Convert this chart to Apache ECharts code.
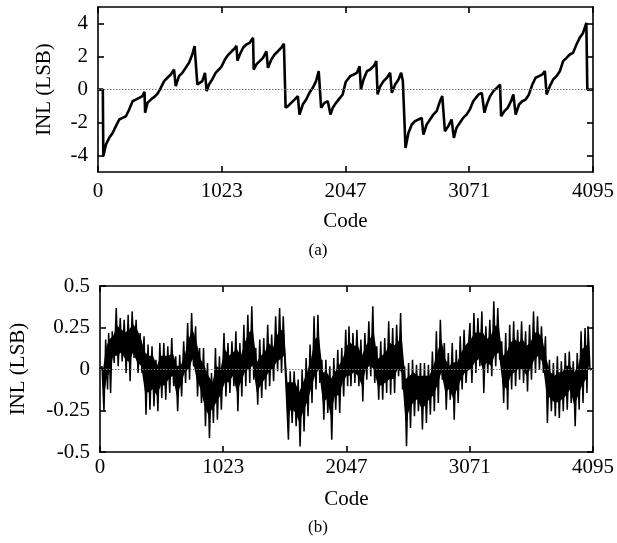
<!DOCTYPE html>
<html><head><meta charset="utf-8">
<script src="https://cdn.jsdelivr.net/npm/echarts@6/dist/echarts.min.js"></script>
<style>html,body{margin:0;padding:0;background:#fff}#c{width:617px;height:543px}</style>
</head><body><div id="c"></div>
<script>
// Tick labels
const xTicks = [0, 1023, 2047, 3071, 4095];
const topYTicks = [-4, -2, 0, 2, 4];

// (a) INL before calibration: code / value pairs
const topCodes = [0,40,44,66,93,121,148,176,203,231,258,286,313,341,368,385,390,409,437,464,492,519,547,574,602,629,643,670,698,725,753,780,799,822,841,863,885,899,918,945,973,1000,1022,1049,1077,1104,1132,1145,1154,1173,1200,1228,1255,1283,1288,1310,1338,1365,1393,1406,1434,1461,1489,1516,1538,1544,1552,1571,1598,1626,1653,1667,1694,1722,1749,1777,1804,1826,1846,1873,1901,1923,1942,1969,1997,2024,2049,2087,2115,2142,2164,2175,2197,2225,2252,2280,2302,2313,2335,2362,2390,2417,2431,2458,2486,2508,2522,2533,2544,2568,2596,2623,2651,2678,2692,2719,2747,2774,2802,2829,2848,2870,2898,2925,2944,2966,2994,3021,3049,3076,3104,3126,3148,3175,3189,3197,3216,3244,3271,3299,3326,3335,3362,3389,3417,3436,3455,3483,3510,3538,3565,3593,3620,3648,3675,3697,3711,3738,3766,3793,3821,3848,3876,3903,3930,3958,3985,4013,4040,4048,4095];
const topINL = [0,0,-4.05,-3.33,-2.93,-2.63,-2.22,-1.82,-1.72,-1.62,-1.21,-0.71,-0.61,-0.51,-0.40,-0.14,-1.41,-0.81,-0.61,-0.46,-0.26,0.10,0.51,0.71,0.91,1.21,0.20,0.81,1.01,1.31,1.62,2.12,2.63,0.30,0.40,0.51,1.01,-0.10,0.30,0.61,1.01,1.21,1.40,1.80,2.10,2.30,2.50,2.65,1.75,2.12,2.53,2.73,2.83,3.13,1.21,1.52,1.72,1.92,2.32,1.31,1.82,2.12,2.32,2.53,2.77,2.73,-1.11,-1.01,-0.81,-0.61,-0.40,-1.52,-0.91,-0.61,-0.20,0.10,0.51,1.11,-1.11,-0.81,-0.71,-1.52,-1.11,-0.81,-0.55,-0.30,0.45,0.81,0.91,1.01,1.41,0.0,0.61,1.11,1.21,1.41,1.72,-0.30,0.20,0.51,0.71,1.01,-0.20,0.30,0.61,1.01,0.51,-1.52,-3.54,-2.63,-2.12,-1.92,-1.82,-1.72,-2.73,-2.12,-1.82,-1.52,-1.31,-0.71,-0.40,-2.53,-2.22,-1.82,-2.93,-2.32,-2.02,-1.72,-1.52,-1.21,-0.71,-0.51,-0.30,-0.20,-0.10,-1.41,-0.91,-0.40,-0.10,0.10,0.30,-1.62,-1.31,-1.11,-0.71,-0.30,-1.52,-0.91,-0.71,-0.61,-0.30,0.30,0.71,0.81,0.91,1.11,-0.30,0.20,0.61,0.81,1.11,1.72,1.92,2.12,2.22,2.73,3.13,3.43,4.04,0,0];

// (b) INL after calibration, per bin of codes:
// botHi/botLo = tips of the spikes, coreHi/coreLo = edges of the dense black band
const botCodes = [25,55,80,110,143,176,209,242,275,308,341,374,407,440,473,505,538,571,604,637,670,703,736,769,802,835,868,901,934,967,1000,
 1038,1071,1104,1137,1170,1203,1236,1269,1302,1335,1368,1401,1434,1467,1500,1530,1557,1588,1621,1654,1687,1720,1753,1786,1818,1851,1884,1917,1950,1983,2016,2049,
 2076,2109,2142,2175,2208,2241,2274,2307,2340,2373,2406,2439,2472,2505,2538,2571,2604,2637,2670,2703,2736,2769,2802,2835,2868,2901,2934,2967,3000,3032,
 3081,3114,3147,3180,3213,3246,3279,3312,3345,3378,3411,3444,3477,3510,3543,3576,3609,3642,3675,3708,3741,3774,3807,3840,3873,3906,3939,3972,4004,4037,4062];
const botHi = [0.016,0.177,0.217,0.227,0.367,0.307,0.297,0.327,0.347,0.297,0.217,0.197,0.147,0.137,0.056,0.157,0.157,0.137,0.187,0.076,0.086,0.167,0.277,0.337,0.257,0.127,0.127,0.036,-0.024,0.127,0.076,
 0.217,0.157,0.167,0.227,0.157,0.267,0.327,0.378,0.127,0.177,0.187,0.267,0.207,0.317,0.367,0.317,0.006,-0.014,-0.014,-0.064,-0.004,0.066,0.147,0.317,0.327,0.056,0.056,0.016,0.066,0.116,0.127,0.237,
 0.257,0.217,0.237,0.177,0.217,0.287,0.378,0.137,0.167,0.187,0.287,0.247,0.267,0.337,0.016,0.036,0.056,0.026,0.036,0.036,0.026,0.106,0.227,0.297,0.157,0.096,0.157,0.116,0.197,0.237,
 0.277,0.337,0.307,0.347,0.257,0.297,0.408,0.367,0.167,0.217,0.267,0.287,0.237,0.287,0.227,0.267,0.347,0.317,0.257,0.197,0.056,0.036,0.076,0.046,0.096,0.106,0.046,0.096,0.227,0.247,0.257];
const botLo = [-0.255,-0.124,-0.145,0.036,0.016,0.046,-0.024,-0.074,0.066,-0.024,-0.024,-0.275,-0.245,-0.225,-0.255,-0.175,-0.185,-0.145,-0.104,-0.255,-0.165,-0.084,-0.064,0.016,-0.165,-0.205,-0.345,-0.416,-0.325,-0.305,-0.245,
 -0.165,-0.145,-0.104,-0.255,-0.165,-0.104,-0.084,-0.064,-0.215,-0.175,-0.124,-0.104,-0.074,-0.014,-0.024,0.016,-0.426,-0.325,-0.345,-0.466,-0.376,-0.285,-0.205,-0.124,-0.084,-0.305,-0.265,-0.426,-0.245,-0.265,-0.165,-0.104,
 -0.104,-0.084,-0.104,-0.195,-0.064,-0.044,-0.084,-0.185,-0.185,-0.145,-0.155,-0.145,-0.044,-0.124,-0.466,-0.355,-0.285,-0.255,-0.365,-0.325,-0.275,-0.255,-0.205,-0.064,-0.245,-0.185,-0.305,-0.205,-0.124,-0.084,
 -0.084,-0.024,0.016,-0.145,-0.024,-0.044,0.016,0.056,-0.205,-0.245,-0.124,-0.104,-0.064,-0.084,-0.135,-0.064,-0.024,-0.004,-0.024,-0.325,-0.255,-0.285,-0.295,-0.255,-0.245,-0.205,-0.345,-0.245,-0.205,-0.145,-0.004];
const coreHi = [0.00,0.14,0.18,0.20,0.26,0.24,0.22,0.24,0.27,0.24,0.18,0.10,0.08,0.08,0.02,0.08,0.08,0.08,0.10,0.02,0.02,0.08,0.18,0.24,0.16,0.06,0.02,-0.04,-0.08,0.02,0.00,
 0.12,0.08,0.10,0.12,0.08,0.16,0.22,0.24,0.04,0.08,0.10,0.16,0.12,0.20,0.24,0.22,-0.08,-0.08,-0.08,-0.14,-0.08,-0.02,0.06,0.18,0.20,-0.02,-0.02,-0.06,-0.02,0.02,0.06,0.14,
 0.16,0.14,0.14,0.08,0.14,0.18,0.22,0.06,0.08,0.10,0.16,0.14,0.16,0.20,-0.06,-0.04,-0.02,-0.04,-0.04,-0.04,-0.04,0.02,0.10,0.18,0.06,0.02,0.04,0.04,0.10,0.14,
 0.18,0.22,0.22,0.22,0.18,0.20,0.26,0.26,0.08,0.10,0.16,0.18,0.16,0.18,0.14,0.16,0.22,0.22,0.18,0.06,-0.02,-0.04,-0.02,-0.02,0.02,0.02,-0.02,0.02,0.12,0.14,0.16];
const coreLo = [-0.20,-0.06,-0.02,0.08,0.08,0.10,0.06,0.04,0.10,0.04,0.02,-0.14,-0.14,-0.12,-0.16,-0.10,-0.10,-0.06,-0.04,-0.16,-0.10,-0.02,0.00,0.06,-0.06,-0.12,-0.22,-0.28,-0.24,-0.20,-0.16,
 -0.08,-0.08,-0.04,-0.14,-0.08,-0.02,0.00,0.02,-0.14,-0.10,-0.06,-0.02,0.00,0.04,0.06,0.08,-0.30,-0.24,-0.26,-0.32,-0.26,-0.20,-0.12,-0.04,0.00,-0.20,-0.18,-0.28,-0.16,-0.16,-0.08,-0.04,
 -0.04,-0.02,-0.04,-0.10,0.00,0.02,0.00,-0.10,-0.10,-0.08,-0.06,-0.06,0.00,-0.02,-0.32,-0.24,-0.20,-0.18,-0.24,-0.22,-0.18,-0.16,-0.10,-0.02,-0.14,-0.12,-0.18,-0.12,-0.06,-0.02,
 0.00,0.04,0.06,0.00,0.04,0.02,0.08,0.10,-0.10,-0.12,-0.04,-0.02,0.00,0.00,-0.04,0.00,0.06,0.08,0.04,-0.14,-0.18,-0.20,-0.20,-0.18,-0.16,-0.12,-0.22,-0.16,-0.10,-0.06,0.02];

const topData = topCodes.map((c, i) => [c, topINL[i]]);
const botData = [[0, 0]];
botCodes.forEach((c, i) => { botData.push([c - 8, botHi[i]]); botData.push([c + 8, botLo[i]]); });
botData.push([4095, 0]);
const bandData = botCodes.map((c, i) => [c, coreHi[i], coreLo[i]]);

const FONT = 'Liberation Serif';
const FS = 21;
const plain = v => String(v);
const frame = { show: true, onZero: false, lineStyle: { color: '#000', width: 1.6 } };
function xAxes(gridIndex, margin, nameGap) {
  return [
    { type: 'value', gridIndex, min: 0, max: 4095, position: 'bottom',
      axisLine: frame,
      axisTick: { show: true, inside: true, length: 6, customValues: xTicks, lineStyle: { color: '#000', width: 1.6 } },
      axisLabel: { customValues: xTicks, formatter: plain, color: '#000', fontFamily: FONT, fontSize: FS, margin: margin },
      splitLine: { show: false },
      name: 'Code', nameLocation: 'middle', nameGap: nameGap,
      nameTextStyle: { color: '#000', fontFamily: FONT, fontSize: FS } },
    { type: 'value', gridIndex, min: 0, max: 4095, position: 'top',
      axisLine: frame,
      axisTick: { show: true, inside: true, length: 6, customValues: xTicks, lineStyle: { color: '#000', width: 1.6 } },
      axisLabel: { show: false }, splitLine: { show: false } }
  ];
}
function yAxes(gridIndex, opts, nameGap) {
  const tickCfg = { show: true, inside: true, length: 6, lineStyle: { color: '#000', width: 1.6 } };
  if (opts.customValues) tickCfg.customValues = opts.customValues;
  const lab = { color: '#000', fontFamily: FONT, fontSize: FS, margin: 10, formatter: plain };
  if (opts.customValues) lab.customValues = opts.customValues;
  const base = { type: 'value', gridIndex, min: opts.min, max: opts.max, splitLine: { show: false } };
  if (opts.interval) base.interval = opts.interval;
  return [
    Object.assign({}, base, { position: 'left', axisLine: frame, axisTick: tickCfg, axisLabel: lab,
      name: 'INL (LSB)', nameLocation: 'middle', nameGap: nameGap, nameRotate: 90,
      nameTextStyle: { color: '#000', fontFamily: FONT, fontSize: FS } }),
    Object.assign({}, base, { position: 'right', axisLine: frame, axisTick: tickCfg, axisLabel: { show: false } })
  ];
}

const zeroLine = { silent: true, symbol: 'none', label: { show: false },
  lineStyle: { color: '#777', type: [1.5, 1.5], width: 1 }, data: [{ yAxis: 0 }] };

const chart = echarts.init(document.getElementById('c'), null, { renderer: 'canvas' });
chart.setOption({
  animation: false,
  backgroundColor: '#fff',
  textStyle: { fontFamily: FONT },
  grid: [
    { left: 98, right: 22, top: 7, height: 165 },
    { left: 98, right: 22, top: 286, height: 166 }
  ],
  xAxis: [...xAxes(0, 9, 39), ...xAxes(1, 5, 37)],
  yAxis: [...yAxes(0, { min: -5, max: 5, customValues: topYTicks }, 43),
          ...yAxes(1, { min: -0.5, max: 0.5, interval: 0.25 }, 71)],
  graphic: [
    { type: 'text', x: 318, y: 242, style: { text: '(a)', font: '17px "Liberation Serif"', fill: '#000', textAlign: 'center' } },
    { type: 'text', x: 318, y: 519, style: { text: '(b)', font: '17px "Liberation Serif"', fill: '#000', textAlign: 'center' } }
  ],
  series: [
    { type: 'line', xAxisIndex: 0, yAxisIndex: 0, data: topData, showSymbol: false,
      lineStyle: { color: '#000', width: 2.6 }, markLine: zeroLine, z: 3 },
    { type: 'custom', xAxisIndex: 2, yAxisIndex: 2, data: bandData, z: 2, silent: true,
      renderItem: function (params, api) {
        if (params.dataIndex !== 0) return null;
        const upper = [], lower = [];
        for (let i = 0; i < bandData.length; i++) {
          upper.push(api.coord([bandData[i][0], bandData[i][1]]));
          lower.push(api.coord([bandData[i][0], bandData[i][2]]));
        }
        return { type: 'polygon', shape: { points: upper.concat(lower.reverse()) }, style: { fill: '#000' } };
      } },
    { type: 'line', xAxisIndex: 2, yAxisIndex: 2, data: botData, showSymbol: false,
      lineStyle: { color: '#000', width: 1.5 }, markLine: zeroLine, z: 3 }
  ]
});
</script></body></html>
